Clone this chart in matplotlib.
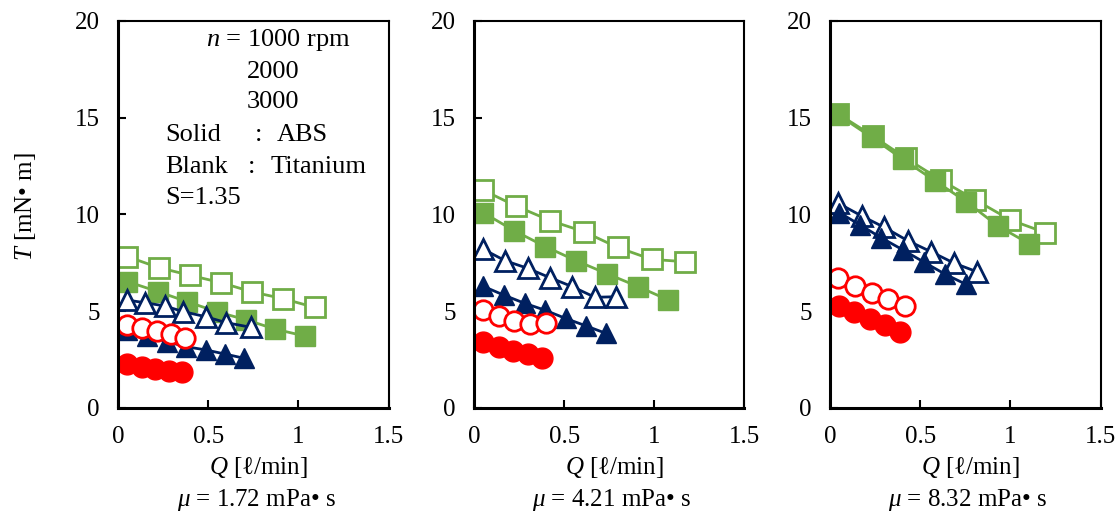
import matplotlib
matplotlib.use("Agg")
import matplotlib.pyplot as plt

plt.rcParams['font.family'] = ['Liberation Serif', 'DejaVu Serif']
plt.rcParams['mathtext.fontset'] = 'custom'
plt.rcParams['mathtext.rm'] = 'Liberation Serif'
plt.rcParams['mathtext.it'] = 'Liberation Serif:italic'

# 数据：三种粘度下的扭矩 T [mN·m] 与流量 Q [l/min]
mu_labels = ['1.72', '4.21', '8.32']

# 1000 rpm（圆点）
q_1000_solid = [[0.052, 0.131, 0.205, 0.282, 0.352],
                [0.052, 0.136, 0.214, 0.297, 0.378],
                [0.050, 0.135, 0.222, 0.306, 0.389]]
t_1000_solid = [[2.27, 2.14, 2.02, 1.93, 1.88],
                [3.43, 3.17, 2.96, 2.77, 2.60],
                [5.27, 4.95, 4.60, 4.27, 3.94]]
q_1000_blank = [[0.052, 0.135, 0.214, 0.292, 0.371],
                [0.048, 0.136, 0.223, 0.312, 0.402],
                [0.046, 0.139, 0.231, 0.324, 0.417]]
t_1000_blank = [[4.29, 4.12, 4.00, 3.82, 3.63],
                [5.06, 4.77, 4.50, 4.34, 4.41],
                [6.70, 6.30, 5.93, 5.62, 5.27]]

# 2000 rpm（三角）
q_2000_solid = [[0.048, 0.159, 0.270, 0.376, 0.487, 0.592, 0.699],
                [0.048, 0.164, 0.281, 0.392, 0.508, 0.619, 0.731],
                [0.052, 0.167, 0.283, 0.404, 0.522, 0.639, 0.754]]
t_2000_solid = [[4.03, 3.72, 3.43, 3.17, 3.00, 2.79, 2.57],
                [6.30, 5.84, 5.41, 5.06, 4.63, 4.25, 3.86],
                [10.09, 9.46, 8.80, 8.17, 7.53, 6.91, 6.39]]
q_2000_blank = [[0.048, 0.149, 0.260, 0.361, 0.485, 0.600, 0.736],
                [0.048, 0.173, 0.297, 0.420, 0.545, 0.671, 0.790],
                [0.046, 0.176, 0.300, 0.430, 0.559, 0.689, 0.815]]
t_2000_blank = [[5.58, 5.44, 5.27, 4.98, 4.72, 4.41, 4.17],
                [8.22, 7.61, 7.22, 6.74, 6.27, 5.72, 5.75],
                [10.58, 9.92, 9.34, 8.65, 8.08, 7.48, 7.04]]

# 3000 rpm（方块）
q_3000_solid = [[0.052, 0.223, 0.384, 0.546, 0.712, 0.873, 1.035],
                [0.052, 0.223, 0.396, 0.567, 0.740, 0.911, 1.078],
                [0.046, 0.231, 0.404, 0.580, 0.756, 0.930, 1.106]]
t_3000_solid = [[6.53, 6.01, 5.49, 4.98, 4.55, 4.07, 3.72],
                [10.09, 9.16, 8.34, 7.61, 6.93, 6.27, 5.58],
                [15.14, 13.99, 12.85, 11.75, 10.66, 9.41, 8.48]]
q_3000_blank = [[0.052, 0.227, 0.398, 0.570, 0.743, 0.915, 1.090],
                [0.048, 0.232, 0.424, 0.610, 0.796, 0.985, 1.171],
                [0.046, 0.237, 0.422, 0.615, 0.806, 1.000, 1.194]]
t_3000_blank = [[7.82, 7.25, 6.86, 6.48, 6.00, 5.65, 5.20],
                [11.27, 10.44, 9.68, 9.11, 8.30, 7.68, 7.56],
                [15.19, 14.06, 12.90, 11.78, 10.75, 9.72, 9.06]]

green = '#70AD47'
navy = '#002060'
red = '#FF0000'

fig = plt.figure(figsize=(11.2, 5.19), dpi=100)
lefts = [0.1054, 0.4232, 0.7411]
fs = 18
fs_leg = 19

for i in range(3):
    ax = fig.add_axes([lefts[i], 0.2139, 0.2415, 0.7457])
    ms = 14
    # 绘制顺序：空心方块、实心方块、空心三角、实心三角、空心圆、实心圆
    ax.plot(q_3000_blank[i], t_3000_blank[i], color=green, lw=2, marker='s', ms=ms,
            mfc='white', mec=green, mew=2)
    ax.plot(q_3000_solid[i], t_3000_solid[i], color=green, lw=2, marker='s', ms=ms,
            mfc=green, mec=green)
    ax.plot(q_2000_blank[i], t_2000_blank[i], color=navy, lw=2, marker='^', ms=ms + 1,
            mfc='white', mec=navy, mew=2)
    ax.plot(q_2000_solid[i], t_2000_solid[i], color=navy, lw=2, marker='^', ms=ms + 1,
            mfc=navy, mec=navy)
    ax.plot(q_1000_blank[i], t_1000_blank[i], color=red, lw=2, marker='o', ms=ms,
            mfc='white', mec=red, mew=2)
    ax.plot(q_1000_solid[i], t_1000_solid[i], color=red, lw=2, marker='o', ms=ms + 1,
            mfc=red, mec=red)

    ax.set_xlim(0, 1.5)
    ax.set_ylim(0, 20)
    ax.set_xticks([0, 0.5, 1, 1.5])
    ax.set_xticklabels(['0', '0.5', '1', '1.5'])
    ax.set_yticks([0, 5, 10, 15, 20])
    ax.tick_params(direction='in', length=6, width=1.5, labelsize=fs, pad=13,
                   color='black')
    ax.spines['left'].set_linewidth(2.2)
    ax.spines['bottom'].set_linewidth(2.2)
    ax.spines['top'].set_linewidth(1.5)
    ax.spines['right'].set_linewidth(1.5)

    ax.text(0.52, -0.155, '$Q$ [ℓ/min]', transform=ax.transAxes, ha='center',
            va='center', fontsize=fs)
    ax.text(0.51, -0.238, '$\\mu$ = ' + mu_labels[i] + ' mPa• s', transform=ax.transAxes,
            ha='center', va='center', fontsize=fs)

    if i == 0:
        def px(x):
            return (x - 118) / 271.0

        def py(y):
            return (408 - y) / 387.0

        ax.text(px(206), py(40), '$n$ = 1000 rpm', transform=ax.transAxes,
                va='center', fontsize=fs_leg)
        ax.text(px(247), py(72), '2000', transform=ax.transAxes, va='center', fontsize=fs_leg)
        ax.text(px(247), py(102), '3000', transform=ax.transAxes, va='center', fontsize=fs_leg)
        ax.text(px(165), py(135), 'Solid', transform=ax.transAxes, va='center', fontsize=fs_leg)
        ax.text(px(255), py(135), ':', transform=ax.transAxes, va='center', fontsize=fs_leg)
        ax.text(px(277), py(135), 'ABS', transform=ax.transAxes, va='center', fontsize=fs_leg)
        ax.text(px(165), py(167), 'Blank', transform=ax.transAxes, va='center', fontsize=fs_leg)
        ax.text(px(248), py(167), ':', transform=ax.transAxes, va='center', fontsize=fs_leg)
        ax.text(px(271), py(167), 'Titanium', transform=ax.transAxes, va='center',
                fontsize=fs_leg)
        ax.text(px(165), py(198), 'S=1.35', transform=ax.transAxes, va='center',
                fontsize=fs_leg)

fig.text(25 / 1120, 1 - 207 / 519, '$T$ [mN• m]', rotation=90, ha='center', va='center',
         fontsize=fs)

fig.savefig('out.png', dpi=100)
